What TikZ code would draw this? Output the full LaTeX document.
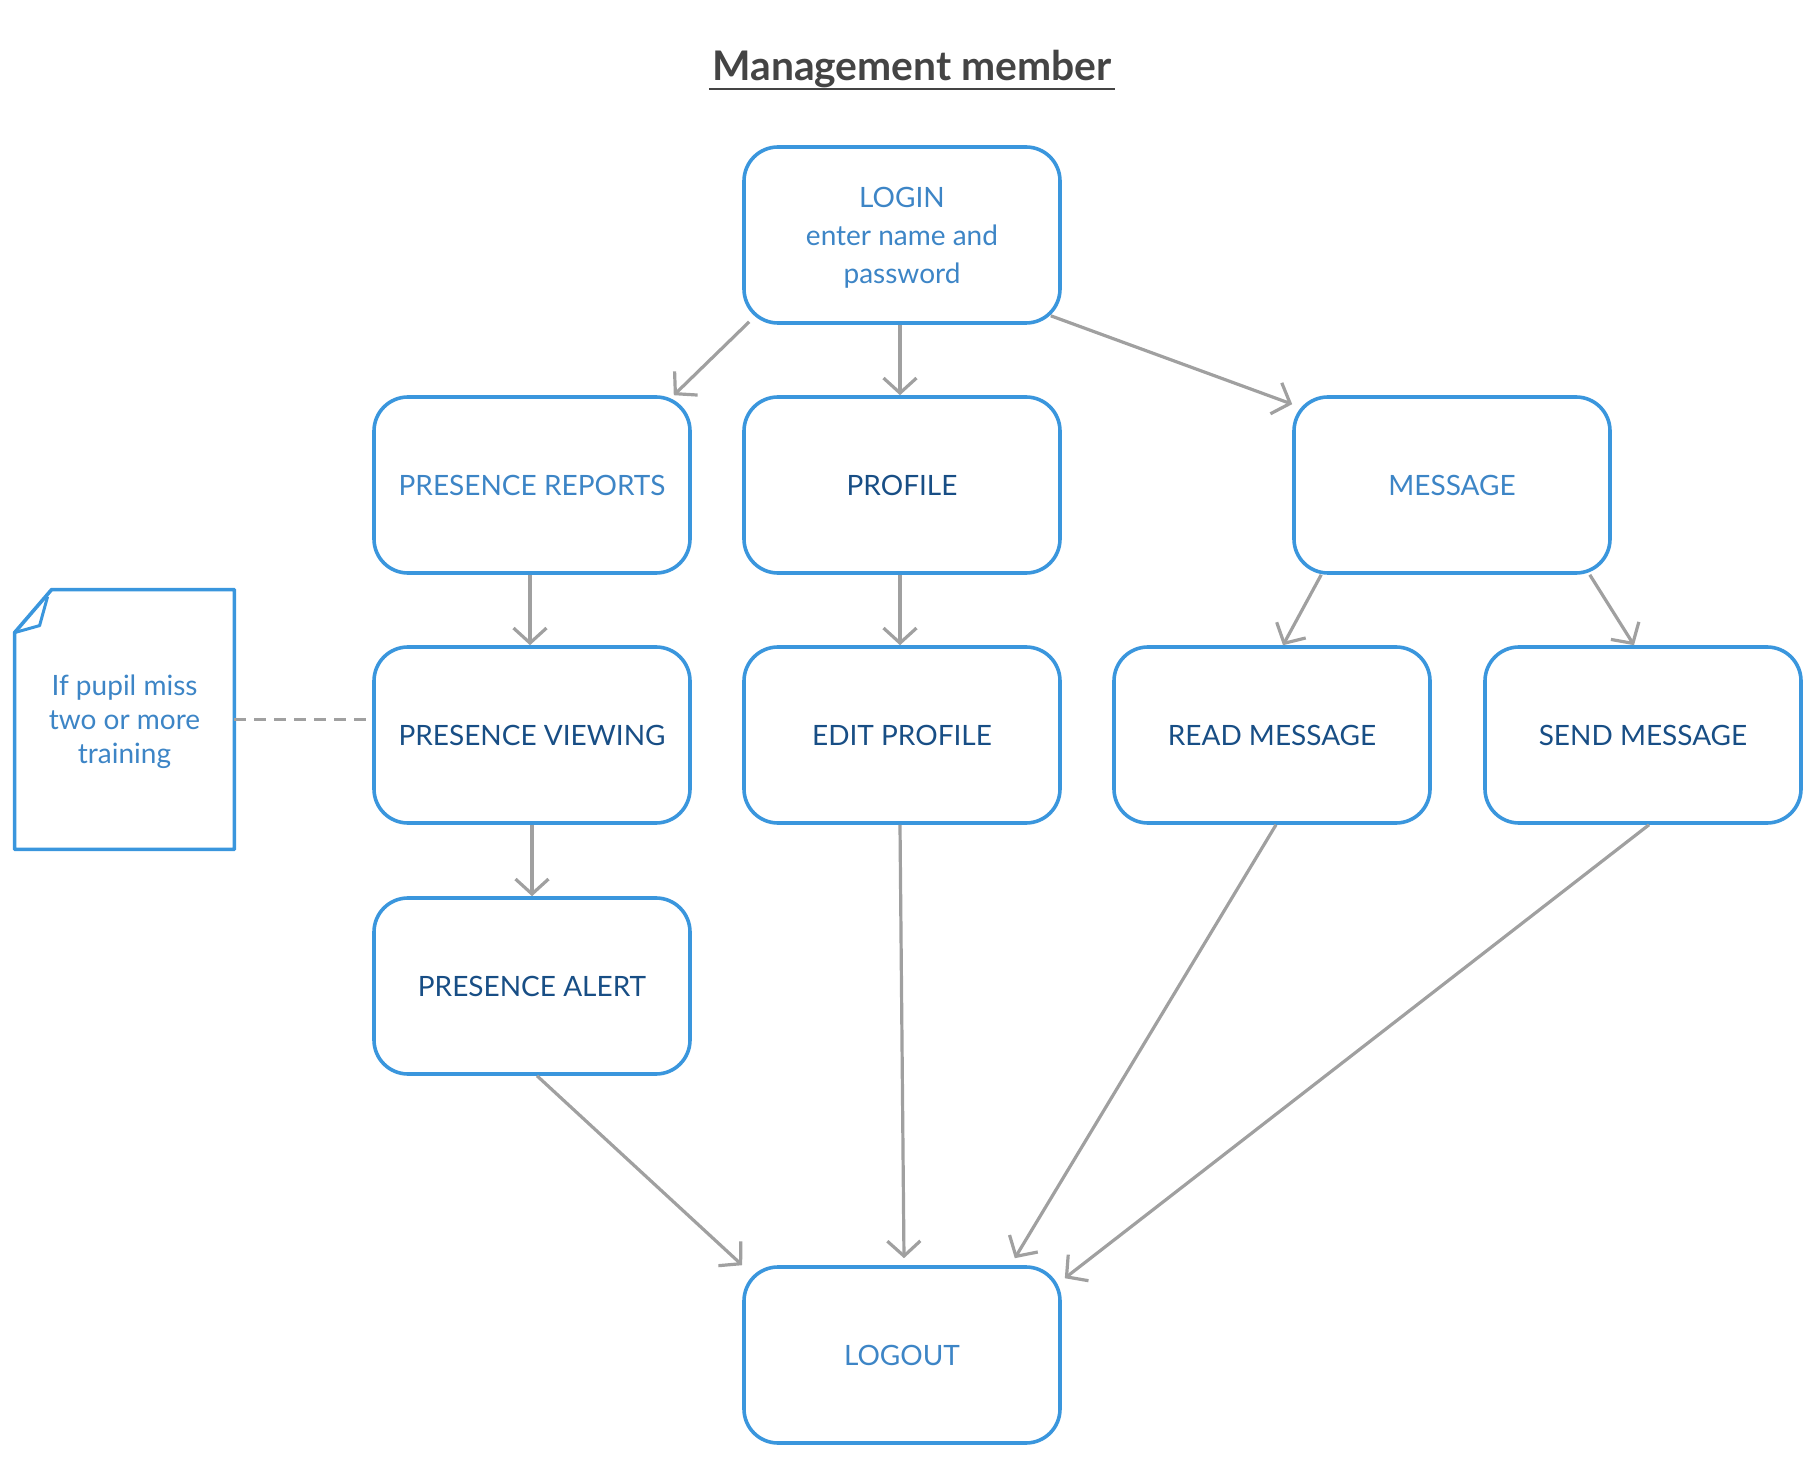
\documentclass[tikz,border=0pt]{standalone}
\usepackage{fontspec}
\setmainfont{Lato}
\usepackage{tikz}
\usetikzlibrary{arrows.meta,calc}

\definecolor{boxblue}{RGB}{58,150,221}
\definecolor{textlight}{RGB}{61,133,198}
\definecolor{textdark}{RGB}{24,78,133}
\definecolor{arrowgray}{RGB}{160,160,160}
\definecolor{titlegray}{RGB}{68,68,68}

\tikzset{
  box/.style={draw=boxblue,line width=1.8pt,rounded corners=17pt,minimum width=158pt,
    minimum height=88pt,align=center,inner sep=0pt,text depth=0pt,font=\fontsize{14}{19}\selectfont},
  lightbox/.style={box,text=textlight},
  darkbox/.style={box,text=textdark},
  flow/.style={draw=arrowgray,line width=1.6pt,-{Straight Barb[length=7.5pt,width=16.5pt]}}
}

\begin{document}
\begin{tikzpicture}[x=0.5pt,y=-0.5pt]
  \useasboundingbox (0,0) rectangle (1817,1460);
  % Title
  \node[anchor=base,inner xsep=0pt,text=titlegray,font=\fontsize{20.4}{25}\selectfont\bfseries] (title) at (912,81) {Management member};
  \draw[titlegray,line width=1.2pt] ($(title.base west)+(-3,8)$) -- ($(title.base east)+(3,8)$);
  % Boxes
  \node[lightbox] (login) at (902,235) {LOGIN\\enter name and\\password};
  \node[lightbox] (reports) at (532,485) {PRESENCE REPORTS};
  \node[darkbox] (profile) at (902,485) {PROFILE};
  \node[lightbox] (message) at (1452,485) {MESSAGE};
  \node[darkbox] (viewing) at (532,735) {PRESENCE VIEWING};
  \node[darkbox] (editprofile) at (902,735) {EDIT PROFILE};
  \node[darkbox] (readmsg) at (1272,735) {READ MESSAGE};
  \node[darkbox] (sendmsg) at (1643,735) {SEND MESSAGE};
  \node[darkbox] (alert) at (532,986) {PRESENCE ALERT};
  \node[lightbox] (logout) at (902,1355) {LOGOUT};
  % Note with folded corner
  \node[minimum width=109.5pt,minimum height=129.5pt,align=center,text depth=0pt,text=textlight,
    font=\fontsize{14}{17}\selectfont] (note) at (124.5,719.5) {If pupil miss\\two or more\\training};
  \draw[boxblue,line width=1.8pt,line join=round] ($(note.north west)+(0,43)$) -- ($(note.north west)+(37,0)$)
    -- (note.north east) -- (note.south east) -- (note.south west) -- cycle;
  \draw[boxblue,line width=1.5pt,line join=round] ($(note.north west)+(0,43)$) -- ($(note.north west)+(25,36)$)
    -- ($(note.north west)+(33,7)$);
  % Dashed link
  \draw[arrowgray,line width=1.6pt,dash pattern=on 6pt off 4pt,shorten >=2pt] (note.east) -- (note.east -| viewing.west);
  % Arrows
  \draw[flow] ($(login.south west)+(7,-3)$) -- ($(reports.north east)+(-18,0)$);
  \draw[flow] ($(login.south)+(-2,0)$) -- ($(profile.north)+(-2,0)$);
  \draw[flow] ($(login.south east)+(-11,-9)$) -- ($(message.north west)+(0,9)$);
  \draw[flow] ($(reports.south)+(-2,0)$) -- ($(viewing.north)+(-2,0)$);
  \draw[flow] ($(profile.south)+(-2,0)$) -- ($(editprofile.north)+(-2,0)$);
  \draw[flow] ($(message.south west)+(29,0)$) -- ($(readmsg.north)+(11,0)$);
  \draw[flow] ($(message.south east)+(-22,0)$) -- ($(sendmsg.north)+(-9,0)$);
  \draw[flow] (viewing.south) -- (alert.north);
  \draw[flow] ($(alert.south)+(5,0)$) -- (logout.north west);
  \draw[flow] ($(editprofile.south)+(-2,0)$) -- ($(logout.north)+(2,-7)$);
  \draw[flow] ($(readmsg.south)+(4,0)$) -- ($(logout.north east)+(-47,-7)$);
  \draw[flow] ($(sendmsg.south)+(6,0)$) -- ($(logout.north east)+(3,13)$);
\end{tikzpicture}
\end{document}
